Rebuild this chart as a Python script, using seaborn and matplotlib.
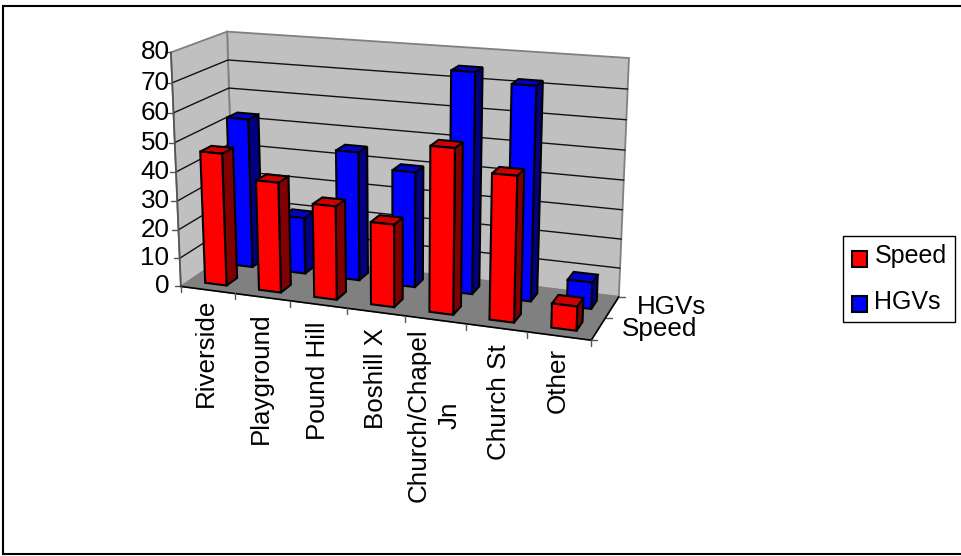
import numpy as np
import pandas as pd
import seaborn as sns
import matplotlib
matplotlib.use("Agg")
import matplotlib.pyplot as plt
from matplotlib.patches import Polygon, Rectangle

categories = ["Riverside", "Playground", "Pound Hill", "Boshill X", "Church/Chapel\nJn", "Church St", "Other"]
series_names = ["Speed", "HGVs"]
speed = [46, 38, 32, 28, 55, 48, 8]
hgvs = [53, 20, 45, 40, 75, 72, 9]
y_ticks = [0, 10, 20, 30, 40, 50, 60, 70, 80]

sns.set_theme(style="white", rc={"font.family": ["Liberation Sans", "DejaVu Sans"], "text.color": "black"})
palette = sns.color_palette(["#FF0000", "#0000FF"])
side_cols = sns.color_palette(["#800000", "#000080"])
top_cols = sns.color_palette(["#CC0000", "#0000CC"])

df = pd.DataFrame({"cat": categories, "Speed": speed, "HGVs": hgvs}).melt("cat", var_name="series", value_name="value")

# Camera: fitted from the corners of the chart box (x, value, depth) -> pixel
box_3d = np.array([[0, 0, 0], [7, 0, 0], [7, 0, 2], [0, 0, 2], [0, 80, 0], [0, 80, 2], [7, 80, 2]], float)
box_px = np.array([[181, 287], [591, 340], [619, 297], [234, 250], [171, 52], [227, 32], [629, 58]], float)
A = []
b = []
for (X, Y, Z), (u, v) in zip(box_3d, box_px):
    A.append([X, Y, Z, 1, 0, 0, 0, 0, -u * X, -u * Y, -u * Z])
    b.append(u)
    A.append([0, 0, 0, 0, X, Y, Z, 1, -v * X, -v * Y, -v * Z])
    b.append(v)
P = np.append(np.linalg.lstsq(np.array(A), np.array(b), rcond=None)[0], 1).reshape(3, 4)


def proj(X, Y, Z):
    h = P @ np.array([X, Y, Z, 1.0])
    return h[0] / h[2], h[1] / h[2]


fig = plt.figure(figsize=(9.61, 5.56), dpi=100, facecolor="white")
ax = fig.add_axes([0, 0, 1, 1])
ax.set_xlim(0, 961)
ax.set_ylim(556, 0)
ax.axis("off")

n = len(categories)
GRAY = "#808080"
FS = 18.7


def quad(pts, fc, ec="black", lw=1.5, z=1):
    ax.add_patch(Polygon([proj(*p) for p in pts], closed=True, fc=fc, ec=ec, lw=lw, zorder=z, joinstyle="miter"))


# walls and floor
quad([(0, 0, 2), (n, 0, 2), (n, 80, 2), (0, 80, 2)], "#C0C0C0", GRAY, 1.3)
quad([(0, 0, 0), (0, 0, 2), (0, 80, 2), (0, 80, 0)], "#C0C0C0", GRAY, 1.3)
quad([(0, 0, 0), (n, 0, 0), (n, 0, 2), (0, 0, 2)], GRAY, GRAY, 1.0)

# grid + value ticks
for t in y_ticks[1:-1]:
    pts = [proj(0, t, 0), proj(0, t, 2), proj(n, t, 2)]
    ax.plot(*zip(*pts), color="#111111", lw=1.0, zorder=2)
for t in y_ticks:
    x0, y0 = proj(0, t, 0)
    ax.plot([x0 - 6, x0], [y0, y0], color="#555555", lw=1.0, zorder=2)
    ax.text(169.5, y0, str(t), ha="right", va="center", fontsize=FS, color="black", zorder=30)

# axis lines
ax.plot(*zip(proj(0, 0, 0), proj(0, 80, 0)), color="#555555", lw=1.2, zorder=2)
ax.plot(*zip(proj(0, 0, 0), proj(n, 0, 0)), color="black", lw=1.2, zorder=2)
ax.plot(*zip(proj(n, 0, 0), proj(n, 0, 2)), color="black", lw=1.2, zorder=2)
for i in range(n + 1):
    x0, y0 = proj(i, 0, 0)
    ax.plot([x0, x0], [y0, y0 + 6], color="#555555", lw=1.0, zorder=2)
for k in range(3):
    x0, y0 = proj(n, 0, k)
    ax.plot([x0, x0 + 6], [y0, y0], color="#555555", lw=1.0, zorder=2)

# bars, back row first
W = 0.4
for s_idx in (1, 0):
    sub = df[df.series == series_names[s_idx]].reset_index(drop=True)
    z0, z1 = s_idx + 0.5 - W / 2, s_idx + 0.5 + W / 2
    for i, v in enumerate(sub.value):
        x0, x1 = i + 0.5 - W / 2, i + 0.5 + W / 2
        zo = 5 + (1 - s_idx) * 10 + i * 0.1
        quad([(x1, 0, z0), (x1, 0, z1), (x1, v, z1), (x1, v, z0)], side_cols[s_idx], z=zo)
        quad([(x0, v, z0), (x1, v, z0), (x1, v, z1), (x0, v, z1)], top_cols[s_idx], z=zo)
        quad([(x0, 0, z0), (x1, 0, z0), (x1, v, z0), (x0, v, z0)], palette[s_idx], z=zo)

# category labels
label_dx = [-2, -1, 0, 0, -1, 3, -1]
label_dy = [9, 15, 17, 16, 9, 16, 12]
for i, c in enumerate(categories):
    x0, y0 = proj(i + 0.5, 0, 0)
    ax.text(x0 + label_dx[i], y0 + label_dy[i], c, rotation=90, ha="center", va="top", fontsize=FS, color="black",
            multialignment="center", linespacing=1.35, zorder=30)

# depth labels
for k, name in enumerate(series_names):
    x0, y0 = proj(n, 0, k + 0.5)
    ax.text(x0 + 23 + k * 2, y0, name, ha="left", va="center", fontsize=FS, color="black", zorder=30)

# legend
handles = [Rectangle((0, 0), 1, 1, fc=palette[i], ec="black", lw=1.5) for i in range(2)]
leg = ax.legend(handles, series_names, loc="upper left", bbox_to_anchor=(843 / 961, 1 - 236 / 556),
                bbox_transform=fig.transFigure, borderaxespad=0, fontsize=18, frameon=True, fancybox=False,
                edgecolor="black", framealpha=1, handlelength=0.62, handleheight=0.65, handletextpad=0.3,
                labelspacing=0.85, borderpad=0.34, labelcolor="black")
leg.get_frame().set_linewidth(1.0)
for h in leg.legend_handles:
    h.set_y(h.get_y() - 3)

# outer border: left, top and bottom only
ax.plot([961, 2.5, 2.5, 961], [6, 6, 554, 554], color="black", lw=1.5, zorder=0.5, solid_joinstyle="miter")

fig.savefig("out.png", dpi=100)
